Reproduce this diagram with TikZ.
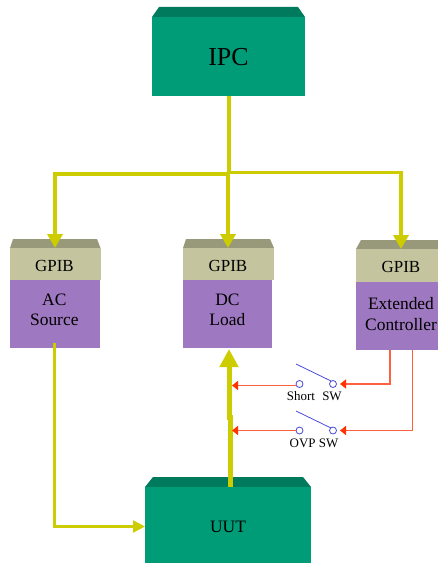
\documentclass[tikz,border=0pt]{standalone}
\usepackage{fontspec}
\setmainfont{Liberation Serif}
\usetikzlibrary{arrows.meta}
\definecolor{boxgreen}{HTML}{009C77}
\definecolor{topgreen}{HTML}{007A5C}
\definecolor{boxpurple}{HTML}{9E78C0}
\definecolor{boxkhaki}{HTML}{C4C49E}
\definecolor{topkhaki}{HTML}{98987A}
\definecolor{busyellow}{HTML}{CCCC00}
\definecolor{sigred}{HTML}{FF6040}
\definecolor{tipred}{HTML}{FF3300}
\definecolor{swblue}{HTML}{4A4AD8}
\tikzset{
  x=1bp,y=-1bp,
  block/.style={draw=none,inner sep=0pt,outer sep=0pt},
  greenbox/.style={block,fill=boxgreen},
  gpibbox/.style={block,fill=boxkhaki},
  devbox/.style={block,fill=boxpurple},
  gpibtext/.style={inner sep=0pt,anchor=base,font=\fontsize{17}{20}\selectfont},
  devtext/.style={inner sep=0pt,align=center,font=\fontsize{17.5}{21}\selectfont},
  swlabel/.style={inner sep=0pt,font=\fontsize{13}{15}\selectfont},
  terminal/.style={circle,draw=swblue,fill=white,line width=0.8bp,minimum size=7bp,inner sep=0pt,outer sep=0pt},
  blade/.style={draw=swblue,line width=0.8bp},
  bus/.style={draw=busyellow,line width=3.5bp},
  sig/.style={draw=sigred,line width=1.2bp,-{Triangle[length=6bp,width=9bp,color=tipred]}},
}
\begin{document}
\begin{tikzpicture}
\useasboundingbox (0,0) rectangle (438,563);
% raised tops
\fill[topgreen] (152,17) -- (159,7) -- (298,7) -- (305,17) -- cycle;
\fill[topkhaki] (10,248) -- (13,239) -- (97,239) -- (100.5,248) -- cycle;
\fill[topkhaki] (183,248) -- (186,239) -- (270,239) -- (274,248) -- cycle;
\fill[topkhaki] (356,249) -- (361,240) -- (438,240) -- (438,249) -- cycle;
\fill[topgreen] (145,487) -- (153,477) -- (303,477) -- (311,487) -- cycle;
% blocks
\node[greenbox,minimum width=153bp,minimum height=79bp] (ipc) at (228.5,56.5) {};
\node[gpibbox,minimum width=90.5bp,minimum height=32bp] (gpiba) at (55.25,264) {};
\node[gpibbox,minimum width=91bp,minimum height=32bp] (gpibb) at (228.5,264) {};
\node[gpibbox,minimum width=82bp,minimum height=33bp] (gpibc) at (397,265.5) {};
\node[devbox,minimum width=90bp,minimum height=68bp] (ac) at (55,314) {};
\node[devbox,minimum width=89bp,minimum height=68bp] (dc) at (227.5,314) {};
\node[devbox,minimum width=82bp,minimum height=68bp] (ext) at (397,316) {};
\node[greenbox,minimum width=166bp,minimum height=76bp] (uut) at (228,525) {};
% texts
\node[inner sep=0pt,anchor=base,font=\fontsize{26}{30}\selectfont] (ipct) at (228.5,66) {IPC};
\node[gpibtext] (gpibat) at (54.5,271) {GPIB};
\node[gpibtext] (gpibbt) at (228,271) {GPIB};
\node[gpibtext] (gpibct) at (401,272) {GPIB};
\node[devtext] (act) at (54.3,309.8) {AC\\Source};
\node[devtext] (dct) at (227.4,309.8) {DC\\Load};
\node[devtext] (extt) at (401,313.6) {Extended\\Controller};
\node[inner sep=0pt,anchor=base,font=\fontsize{17.5}{20}\selectfont] (uutt) at (228,532.7) {UUT};
% bus
\coordinate (busa) at (229,174);
\coordinate (busc) at (229,172.5);
\coordinate (tipa) at (55,248);
\coordinate (tipb) at (228,248);
\coordinate (tipc) at (401,249);
\coordinate (acout) at (54.5,343);
\coordinate (uutin) at (145,526.5);
\coordinate (uutout) at (230,487);
\coordinate (uutkink) at (230,415);
\coordinate (uutmid) at (229,420);
\coordinate (dcin) at (229,349);
\draw[bus,line width=4bp] (ipc.south -| busa) -- (busa);
\draw[bus,-{Triangle[length=14bp,width=15bp]}] (busa) -- (busa -| tipa) -- (tipa);
\draw[bus,-{Triangle[length=14bp,width=15bp]}] (tipb |- busa) -- (tipb);
\draw[bus,-{Triangle[length=14bp,width=15bp]}] (busc) -- (busc -| tipc) -- (tipc);
\draw[bus,line width=2.5bp,-{Triangle[length=12bp,width=12bp]}] (acout) -- (acout |- uutin) -- (uutin);
\draw[bus,line width=5bp] (uutout) -- (uutkink);
\draw[bus,line width=5bp,-{Triangle[length=18bp,width=18bp]}] (uutmid) -- (dcin);
% switches
\node[terminal] (s1a) at (299.5,384) {};
\node[terminal] (s1b) at (333,384) {};
\node[terminal] (s2a) at (299.5,430.5) {};
\node[terminal] (s2b) at (333,430.5) {};
\coordinate (b1a) at (296,364);
\coordinate (b1b) at (331,381);
\coordinate (b2a) at (296,411);
\coordinate (b2b) at (331,428);
\draw[blade] (b1a) -- (b1b);
\draw[blade] (b2a) -- (b2b);
\coordinate (busr1) at (232,385.5);
\coordinate (busr2) at (232,430.5);
\draw[sig] (s1a.west |- busr1) -- (busr1);
\draw[sig] (s2a.west) -- (busr2);
\coordinate (extl) at (390,350);
\coordinate (extr) at (412.5,350);
\coordinate (tip1) at (340,384);
\coordinate (tip2) at (340,430.5);
\draw[sig] (extl) -- (extl |- tip1) -- (tip1);
\draw[sig] (extr) -- (extr |- tip2) -- (tip2);
\node[swlabel] (short) at (301,396.5) {Short};
\node[swlabel] (sw) at (332,396.5) {SW};
\node[swlabel] (ovp) at (314,443) {OVP SW};
\end{tikzpicture}
\end{document}
